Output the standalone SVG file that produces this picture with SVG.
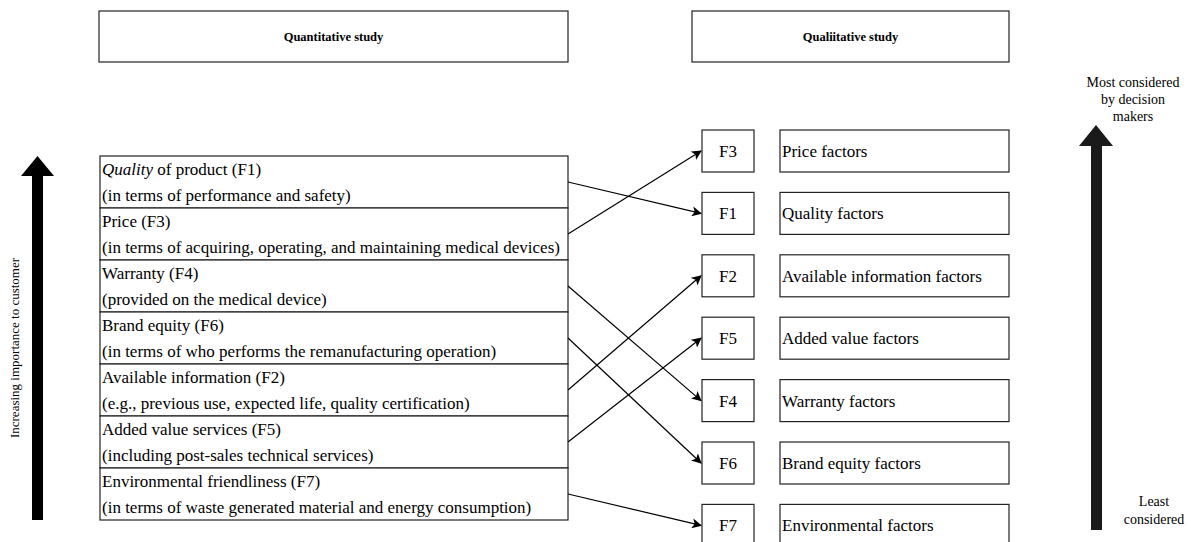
<svg xmlns="http://www.w3.org/2000/svg" width="1191" height="542" viewBox="0 0 1191 542" font-family="'Liberation Serif', 'Times New Roman', 'DejaVu Serif', serif">
  <style>
    .box { fill: #fff; stroke: #222; stroke-width: 1.2; }
    .hdr { font-size: 12.5px; font-weight: bold; text-anchor: middle; }
    .row { font-size: 17px; }
    .code { font-size: 17px; text-anchor: middle; }
    .lbl { font-size: 17px; }
    .side { font-size: 14px; text-anchor: middle; }
    .conn { stroke: #000; stroke-width: 1.2; fill: none; marker-end: url(#head); }
  </style>
  <defs>
    <marker id="head" viewBox="0 0 10 10" refX="9" refY="5" markerWidth="10" markerHeight="10" markerUnits="userSpaceOnUse" orient="auto">
      <path d="M0,0 L10,5 L0,10 L2.5,5 Z" fill="#000"/>
    </marker>
  </defs>

  <rect width="1191" height="542" fill="#fff"/>

  <!-- column headers -->
  <g id="hdr-quant">
    <rect class="box" x="99" y="11" width="469" height="51"/>
    <text class="hdr" x="333.5" y="41">Quantitative study</text>
  </g>
  <g id="hdr-qual">
    <rect class="box" x="692" y="11" width="317" height="51"/>
    <text class="hdr" x="850.5" y="41">Qualiitative study</text>
  </g>

  <!-- importance axis (left) -->
  <g id="axis-customer">
    <path d="M32,520 L32,176 L21,176 L37.5,156 L54,176 L43,176 L43,520 Z" fill="#000"/>
    <text font-size="13" text-anchor="middle" transform="translate(19,348) rotate(-90)">Increasing importance to customer</text>
  </g>

  <!-- quantitative factors, ranked -->
  <g id="f1-quality">
    <rect class="box" x="100" y="156" width="468" height="52"/>
    <text class="row" x="102" y="175"><tspan font-style="italic">Quality</tspan> of product (F1)</text>
    <text class="row" x="102" y="201">(in terms of performance and safety)</text>
  </g>
  <g id="f3-price">
    <rect class="box" x="100" y="208" width="468" height="52"/>
    <text class="row" x="102" y="227">Price (F3)</text>
    <text class="row" x="102" y="253">(in terms of acquiring, operating, and maintaining medical devices)</text>
  </g>
  <g id="f4-warranty">
    <rect class="box" x="100" y="260" width="468" height="52"/>
    <text class="row" x="102" y="279">Warranty (F4)</text>
    <text class="row" x="102" y="305">(provided on the medical device)</text>
  </g>
  <g id="f6-brand">
    <rect class="box" x="100" y="312" width="468" height="52"/>
    <text class="row" x="102" y="331">Brand equity (F6)</text>
    <text class="row" x="102" y="357">(in terms of who performs the remanufacturing operation)</text>
  </g>
  <g id="f2-info">
    <rect class="box" x="100" y="364" width="468" height="52"/>
    <text class="row" x="102" y="383">Available information (F2)</text>
    <text class="row" x="102" y="409">(e.g., previous use, expected life, quality certification)</text>
  </g>
  <g id="f5-services">
    <rect class="box" x="100" y="416" width="468" height="52"/>
    <text class="row" x="102" y="435">Added value services (F5)</text>
    <text class="row" x="102" y="461">(including post-sales technical services)</text>
  </g>
  <g id="f7-env">
    <rect class="box" x="100" y="468" width="468" height="52"/>
    <text class="row" x="102" y="487">Environmental friendliness (F7)</text>
    <text class="row" x="102" y="513">(in terms of waste generated material and energy consumption)</text>
  </g>

  <!-- qualitative factors, ranked -->
  <g id="q-f3">
    <rect class="box" x="702" y="130" width="52" height="42"/>
    <text class="code" x="728" y="157">F3</text>
    <rect class="box" x="780" y="130" width="229" height="42"/>
    <text class="lbl" x="782" y="157">Price factors</text>
  </g>
  <g id="q-f1">
    <rect class="box" x="702" y="192.4" width="52" height="42"/>
    <text class="code" x="728" y="219.4">F1</text>
    <rect class="box" x="780" y="192.4" width="229" height="42"/>
    <text class="lbl" x="782" y="219.4">Quality factors</text>
  </g>
  <g id="q-f2">
    <rect class="box" x="702" y="254.8" width="52" height="42"/>
    <text class="code" x="728" y="281.8">F2</text>
    <rect class="box" x="780" y="254.8" width="229" height="42"/>
    <text class="lbl" x="782" y="281.8">Available information factors</text>
  </g>
  <g id="q-f5">
    <rect class="box" x="702" y="317.2" width="52" height="42"/>
    <text class="code" x="728" y="344.2">F5</text>
    <rect class="box" x="780" y="317.2" width="229" height="42"/>
    <text class="lbl" x="782" y="344.2">Added value factors</text>
  </g>
  <g id="q-f4">
    <rect class="box" x="702" y="379.6" width="52" height="42"/>
    <text class="code" x="728" y="406.6">F4</text>
    <rect class="box" x="780" y="379.6" width="229" height="42"/>
    <text class="lbl" x="782" y="406.6">Warranty factors</text>
  </g>
  <g id="q-f6">
    <rect class="box" x="702" y="442" width="52" height="42"/>
    <text class="code" x="728" y="469">F6</text>
    <rect class="box" x="780" y="442" width="229" height="42"/>
    <text class="lbl" x="782" y="469">Brand equity factors</text>
  </g>
  <g id="q-f7">
    <rect class="box" x="702" y="504.4" width="52" height="42"/>
    <text class="code" x="728" y="531.4">F7</text>
    <rect class="box" x="780" y="504.4" width="229" height="42"/>
    <text class="lbl" x="782" y="531.4">Environmental factors</text>
  </g>

  <!-- consideration axis (right) -->
  <g id="axis-decision">
    <path d="M1091,530 L1091,146 L1079,146 L1096,125 L1113,146 L1102,146 L1102,530 Z" fill="#1a1a1a"/>
    <text class="side" x="1133" y="87">Most considered</text>
    <text class="side" x="1133" y="104">by decision</text>
    <text class="side" x="1133" y="121">makers</text>
    <text class="side" x="1154" y="506">Least</text>
    <text class="side" x="1154" y="524">considered</text>
  </g>

  <!-- rank links -->
  <g id="connectors">
    <path class="conn" d="M568,182 L701,213.4"/>
    <path class="conn" d="M568,234 L701,151"/>
    <path class="conn" d="M568,286 L701,400.6"/>
    <path class="conn" d="M568,338 L701,463"/>
    <path class="conn" d="M568,390 L701,275.8"/>
    <path class="conn" d="M568,442 L701,338.2"/>
    <path class="conn" d="M568,494 L701,525.4"/>
  </g>
</svg>
